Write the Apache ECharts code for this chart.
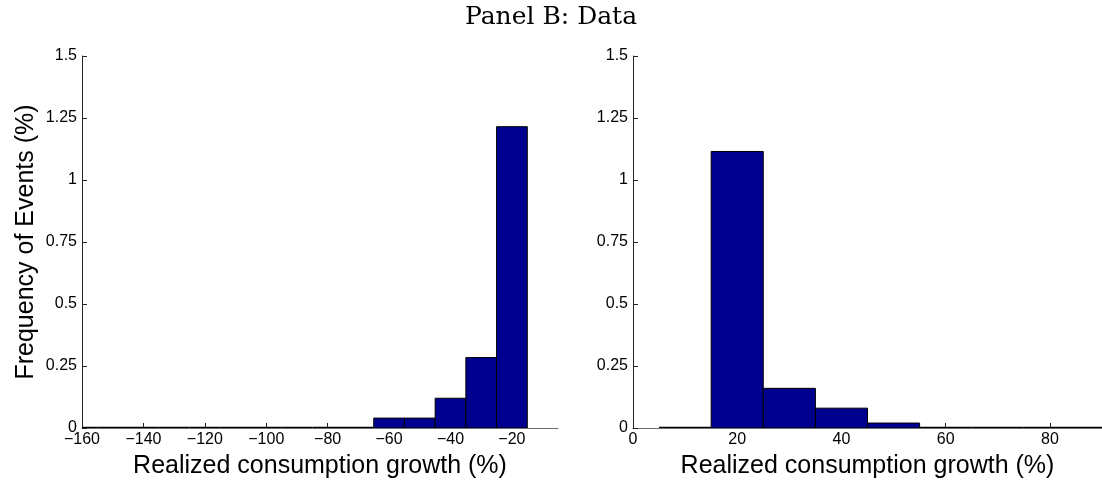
<!DOCTYPE html>
<html>
<head>
<meta charset="utf-8">
<script src="https://cdn.jsdelivr.net/npm/echarts@6/dist/echarts.min.js"></script>
<style>
html,body{margin:0;padding:0;background:#fff;}
#c{width:1102px;height:484px;}
</style>
</head>
<body>
<div id="c"></div>
<script>
// ---- data ----
const binWidth = 10;
const leftBinCenters = [-160,-150,-140,-130,-120,-110,-100,-90,-80,-70,-60,-50,-40,-30,-20];
const leftFreq       = [0,0,0,0,0,0,0,0,0,0,0.040,0.040,0.120,0.284,1.215];
const rightBinCenters = [10,20,30,40,50,60,70,80,90];
const rightFreq       = [0,1.115,0.160,0.080,0.020,0,0,0,0];
const leftXTicks  = [-160,-140,-120,-100,-80,-60,-40,-20];
const rightXTicks = [0,20,40,60,80];
const yTicks = [0,0.25,0.5,0.75,1,1.25,1.5];
const titleText = 'Panel B: Data';
const xTitle = 'Realized consumption growth (%)';
const yTitle = 'Frequency of Events (%)';

const FONT = 'Liberation Sans';
const BAR = '#00008F';

function bins(centers, freq){
  return centers.map((c,i)=>[c-binWidth/2, c+binWidth/2, freq[i]]);
}
function renderItem(params, api){
  const lo = api.coord([api.value(0), 0]);
  const hi = api.coord([api.value(1), api.value(2)]);
  if (api.value(2) === 0) {
    return {type:'line', shape:{x1:lo[0], y1:lo[1], x2:hi[0], y2:lo[1]},
            style:{stroke:'#000', lineWidth:2.5}};
  }
  return {type:'rect', shape:{x:lo[0], y:hi[1], width:hi[0]-lo[0], height:lo[1]-hi[1]},
          style:{fill:BAR, stroke:'#000', lineWidth:1}};
}
const fmt = v => String(v).replace('-', '\u2212');

function xAxis(gridIndex, min, max, ticks){
  return {
    type:'value', gridIndex, min, max,
    splitLine:{show:false},
    axisLine:{show:true, onZero:false, lineStyle:{color:'#6e6e6e', width:1}},
    axisTick:{show:true, inside:true, length:5, lineStyle:{color:'#222'}, customValues:ticks},
    axisLabel:{show:true, customValues:ticks, formatter:fmt, fontFamily:FONT, fontSize:16, color:'#000', margin:4},
    name: xTitle, nameLocation:'middle', nameGap:26,
    nameTextStyle:{fontFamily:FONT, fontSize:25, color:'#000'}
  };
}
function yAxis(gridIndex, showName){
  return {
    type:'value', gridIndex, min:0, max:1.5, interval:0.25,
    splitLine:{show:false},
    axisLine:{show:true, lineStyle:{color:'#222', width:1}},
    axisTick:{show:true, inside:true, length:5, lineStyle:{color:'#222'}, customValues:yTicks},
    axisLabel:{show:true, customValues:yTicks, formatter:v=>String(v), fontFamily:FONT, fontSize:16, color:'#000', margin:5},
    name: showName ? yTitle : '', nameLocation:'middle', nameGap:43,
    nameTextStyle:{fontFamily:FONT, fontSize:25, color:'#000'}
  };
}

const chart = echarts.init(document.getElementById('c'), null, {renderer:'canvas'});
chart.setOption({
  backgroundColor:'#fff',
  animation:false,
  title:{text:titleText, left:'center', top:0,
         textStyle:{fontFamily:'DejaVu Serif', fontSize:25, fontWeight:'normal', color:'#000'}},
  grid:[
    {left:82, top:56, width:476, height:375.5},
    {left:633, top:56, width:476, height:375.5}
  ],
  xAxis:[
    xAxis(0, -160, -5, leftXTicks),
    xAxis(1, 0, 90, rightXTicks)
  ],
  yAxis:[ yAxis(0, true), yAxis(1, false) ],
  series:[
    {type:'custom', xAxisIndex:0, yAxisIndex:0, clip:true, renderItem,
     data: bins(leftBinCenters, leftFreq)},
    {type:'custom', xAxisIndex:1, yAxisIndex:1, clip:true, renderItem,
     data: bins(rightBinCenters, rightFreq)}
  ]
});
</script>
</body>
</html>
